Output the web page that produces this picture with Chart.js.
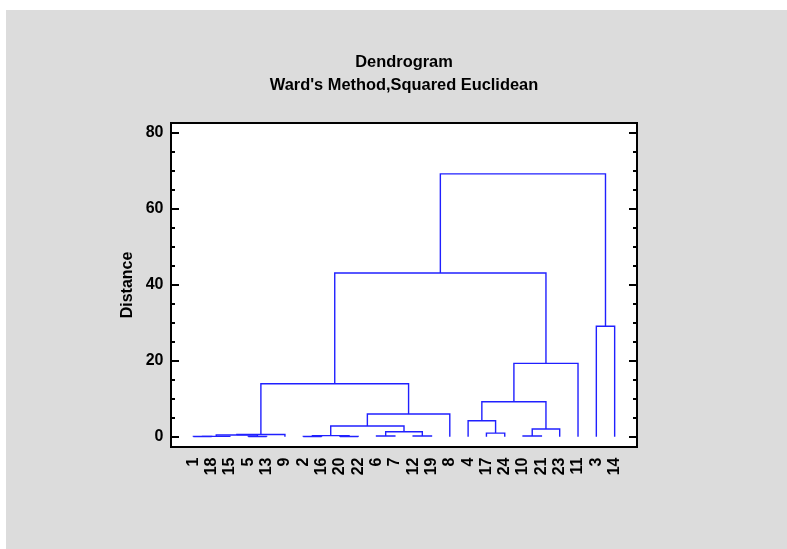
<!DOCTYPE html>
<html>
<head>
<meta charset="utf-8">
<script src="https://cdn.jsdelivr.net/npm/chart.js@4.4.1/dist/chart.umd.min.js"></script>
<style>
html,body{margin:0;padding:0;background:#fff;}
#wrap{position:absolute;left:0;top:0;width:787px;height:549px;}
</style>
</head>
<body>
<div id="wrap"><canvas id="c" width="787" height="549"></canvas></div>
<script>
// Leaf order along the x axis
const leafLabels = ['1','18','15','5','13','9','2','16','20','22','6','7','12','19','8','4','17','24','10','21','23','11','3','14'];
// Merges (nodes 0..23 are leaves in display order; merge k becomes node 24+k)
const mergeLeft   = [0, 3, 6, 8, 24, 10, 12, 18, 26, 28, 33, 16, 29, 31, 32, 15, 38, 39, 34, 41, 22, 42, 45];
const mergeRight  = [1, 4, 7, 9, 2, 11, 13, 19, 27, 25, 5, 17, 30, 20, 36, 35, 14, 37, 40, 21, 23, 43, 44];
const mergeHeight = [0.05, 0.05, 0.05, 0.05, 0.1, 0.2, 0.2, 0.2, 0.3, 0.45, 0.6, 0.96, 1.32, 2.02, 2.81, 4.21, 5.96, 9.21, 13.95, 19.3, 29.04, 43.07, 69.12];
const yTicks = [0, 20, 40, 60, 80];
const yMinorTicks = [0,5,10,15,20,25,30,35,40,45,50,55,60,65,70,75,80];

const FONT = '"Liberation Sans", Arial, Helvetica, sans-serif';
const LINE = 'rgb(32,32,255)';

// build node positions / heights
const nodeX = leafLabels.map((_, i) => i + 1);
const nodeH = leafLabels.map(() => 0);
const datasets = [];
for (let k = 0; k < mergeLeft.length; k++) {
  const a = mergeLeft[k], b = mergeRight[k], h = mergeHeight[k];
  datasets.push({
    data: [
      {x: nodeX[a], y: nodeH[a]},
      {x: nodeX[a], y: h},
      {x: nodeX[b], y: h},
      {x: nodeX[b], y: nodeH[b]}
    ],
    showLine: true,
    borderColor: LINE,
    borderWidth: 1.4,
    pointRadius: 0,
    fill: false,
    tension: 0
  });
  nodeX.push((nodeX[a] + nodeX[b]) / 2);
  nodeH.push(h);
}

const framePlugin = {
  id: 'frame',
  beforeDraw(chart) {
    const ctx = chart.ctx, a = chart.chartArea;
    ctx.save();
    ctx.fillStyle = '#ffffff';
    ctx.fillRect(0, 0, chart.width, chart.height);
    ctx.fillStyle = '#dcdcdc';
    ctx.fillRect(6, 10, chart.width - 6, chart.height - 10);
    ctx.fillStyle = '#ffffff';
    ctx.fillRect(a.left, a.top, a.right - a.left, a.bottom - a.top);
    ctx.restore();
  },
  afterDraw(chart) {
    const ctx = chart.ctx, a = chart.chartArea, y = chart.scales.y;
    ctx.save();
    ctx.strokeStyle = '#000';
    ctx.lineWidth = 2;
    yMinorTicks.forEach(v => {
      const p = Math.round(y.getPixelForValue(v));
      const len = yTicks.includes(v) ? 8 : 4;
      ctx.beginPath();
      ctx.moveTo(a.left, p); ctx.lineTo(a.left + len, p);
      ctx.moveTo(a.right, p); ctx.lineTo(a.right - len, p);
      ctx.stroke();
    });
    ctx.strokeRect(a.left, a.top, a.right - a.left, a.bottom - a.top);
    ctx.restore();
  }
};

new Chart(document.getElementById('c'), {
  type: 'scatter',
  data: { datasets },
  plugins: [framePlugin],
  options: {
    responsive: false,
    animation: false,
    devicePixelRatio: 1,
    layout: { padding: { left: 0, right: 150, top: 0, bottom: 0 } },
    plugins: {
      legend: { display: false },
      tooltip: { enabled: false },
      title: {
        display: true,
        fullSize: false,
        text: ['Dendrogram', "Ward's Method,Squared Euclidean"],
        color: '#000',
        font: { family: FONT, size: 16.4, weight: 'bold', lineHeight: 1.366 },
        padding: { top: 51.6, bottom: 26.6 }
      }
    },
    scales: {
      x: {
        type: 'linear',
        min: -0.22,
        max: 25.22,
        afterBuildTicks: s => { s.ticks = leafLabels.map((_, i) => ({ value: i + 1 })); },
        afterFit: s => { s.height = 102; },
        grid: { display: false, drawTicks: false },
        border: { display: false },
        ticks: {
          autoSkip: false,
          minRotation: 90,
          maxRotation: 90,
          padding: 10.5,
          color: '#000',
          font: { family: FONT, size: 16, weight: 'bold' },
          callback: v => leafLabels[Math.round(v) - 1]
        }
      },
      y: {
        type: 'linear',
        min: -2.7,
        max: 82.5,
        afterBuildTicks: s => { s.ticks = yTicks.map(v => ({ value: v })); },
        afterFit: s => { s.width = 171; },
        grid: { display: false, drawTicks: false },
        border: { display: false },
        ticks: {
          padding: 7.5,
          color: '#000',
          font: { family: FONT, size: 16, weight: 'bold' }
        },
        title: {
          display: true,
          text: 'Distance',
          color: '#000',
          font: { family: FONT, size: 16, weight: 'bold', lineHeight: 1.2 },
          padding: { top: 117.9, bottom: 0 }
        }
      }
    }
  }
});
</script>
</body>
</html>
